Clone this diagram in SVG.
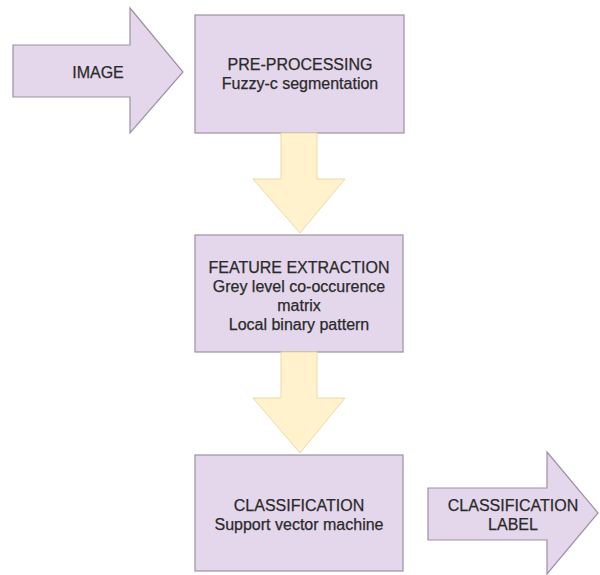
<svg xmlns="http://www.w3.org/2000/svg" width="600" height="575" viewBox="0 0 600 575">
<style>
.box{fill:#e4d7ec;stroke:#9d90a6;stroke-width:1.2}
.yarrow{fill:#fff2cc;stroke:#ecd9a4;stroke-width:1}
text{font-family:"Liberation Sans",Arial,sans-serif;font-size:16px;fill:#2a2a2a;stroke:#2a2a2a;stroke-width:0.25;text-anchor:middle}
</style>
<rect width="600" height="575" fill="#fff"/>
<g id="image">
<path class="box" d="M13,45 H130 V8 L183,72 L130,133 V97 H13 Z"/>
<text x="98" y="78">IMAGE</text>
</g>
<g id="preprocessing">
<rect class="box" x="195" y="15" width="209" height="118"/>
<text x="300" y="70">PRE-PROCESSING</text>
<text x="300" y="89">Fuzzy-c segmentation</text>
</g>
<g id="feature">
<rect class="box" x="195" y="235" width="208" height="117"/>
<text x="299" y="273">FEATURE EXTRACTION</text>
<text x="299" y="292">Grey level co-occurence</text>
<text x="299" y="311">matrix</text>
<text x="299" y="330">Local binary pattern</text>
</g>
<g id="classification">
<rect class="box" x="195" y="455" width="208" height="116"/>
<text x="299" y="511">CLASSIFICATION</text>
<text x="299" y="530">Support vector machine</text>
</g>
<g id="label">
<path class="box" d="M428,488 H547 V452 L598,513 L547,574 V540 H428 Z"/>
<text x="513" y="511">CLASSIFICATION</text>
<text x="513" y="530">LABEL</text>
</g>
<g id="connectors">
<path class="yarrow" d="M281,133 H317 V179 H345 L300,233 L253,179 H281 Z"/>
<path class="yarrow" d="M281,352 H317 V398 H345 L300,453 L253,398 H281 Z"/>
</g>
</svg>
